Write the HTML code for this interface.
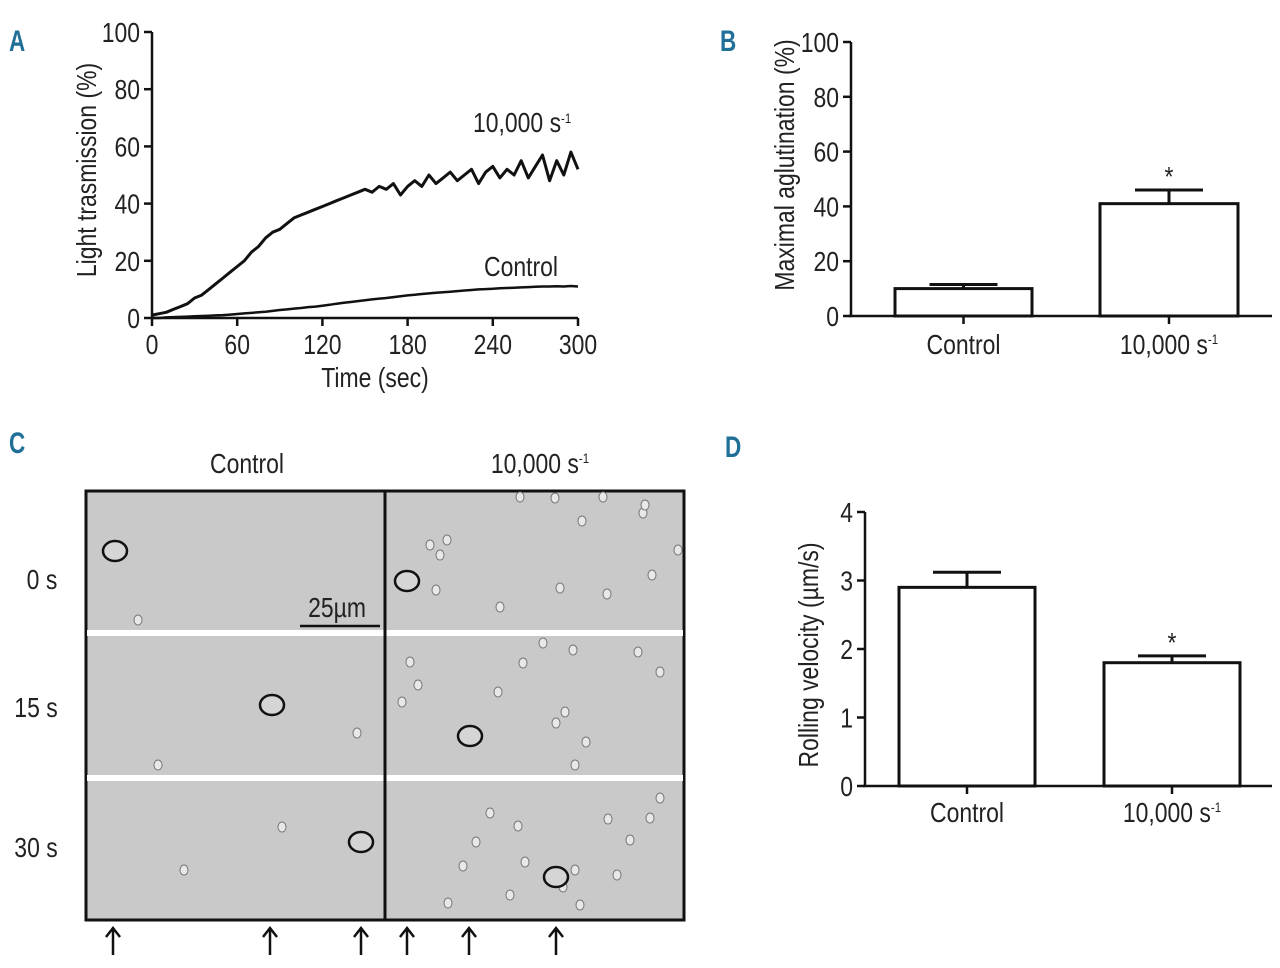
<!DOCTYPE html>
<html><head><meta charset="utf-8"><style>
body{margin:0;background:#fff;}
svg{display:block;font-family:"Liberation Sans",sans-serif;}
.t{font-size:28px;fill:#222;}
.pl{font-size:30px;font-weight:bold;fill:#1f6f99;}
</style></head><body>
<svg id="fig" width="1280" height="968" viewBox="0 0 1280 968" xmlns="http://www.w3.org/2000/svg">
<text class="pl" transform="translate(9,51) scale(0.75,1)">A</text>
<text class="pl" transform="translate(720,51) scale(0.75,1)">B</text>
<text class="pl" transform="translate(9,453) scale(0.75,1)">C</text>
<text class="pl" transform="translate(725,457) scale(0.75,1)">D</text>
<g id="ga"></g>
<g id="gb"></g>
<g id="gc"></g>
<g id="gd"></g>
</svg>
<script>
// Panel A data
const aTicksY=[0,20,40,60,80,100];
const aTicksX=[0,60,120,180,240,300];
const highShear=[1,1.5,2,3,4,5,7,8,10,12,14,16,18,20,23,25,28,30,31,33,35,36,37,38,39,40,41,42,43,44,45,44,46,45,47,43,46,48,46,50,47,49,51,48,50,52,47,51,53,49,52,50,55,49,53,57,48,55,50,58,52];
const controlCurve=[0,0,0.2,0.3,0.4,0.5,0.6,0.7,0.8,0.9,1,1.2,1.4,1.6,1.8,2,2.2,2.5,2.8,3,3.3,3.5,3.8,4,4.3,4.6,5,5.3,5.6,5.9,6.2,6.5,6.8,7,7.3,7.6,7.9,8.1,8.4,8.6,8.8,9,9.2,9.4,9.6,9.8,10,10.1,10.2,10.4,10.5,10.6,10.7,10.8,10.9,11,11,11.1,11,11.2,11];
// Panel B data
const bCats=["Control","10,000 s"];
const bVals=[10,41];
const bErr=[1.5,5];
const bTicks=[0,20,40,60,80,100];
// Panel D data
const dCats=["Control","10,000 s"];
const dVals=[2.9,1.8];
const dErr=[0.22,0.1];
const dTicks=[0,1,2,3,4];

const NS="http://www.w3.org/2000/svg";
const SX=0.82;
function mk(p,tag,at,txt){const e=document.createElementNS(NS,tag);for(const k in at)e.setAttribute(k,at[k]);if(txt!==undefined)e.textContent=txt;p.appendChild(e);return e;}
function tx(p,x,y,anchor,txt,extra,rot){
 const at={'text-anchor':anchor,class:'t',x:0,y:0,transform:`translate(${x},${y})`+(rot?' rotate(-90)':'')+` scale(${SX},1)`};
 for(const k in (extra||{}))at[k]=extra[k];
 const e=mk(p,'text',at);
 if(txt.indexOf('<')>=0)e.innerHTML=txt;else e.textContent=txt;
 return e;}

// ---- Panel A
(function(){
const g=document.getElementById('ga');
const X=v=>152+v*(578-152)/300, Y=v=>318-v*(318-32)/100;
let e=mk(g,'line',{x1:152,y1:32,x2:152,y2:318,stroke:'#111','stroke-width':2.5});

e=mk(g,'line',{x1:152,y1:318,x2:578,y2:318,stroke:'#111','stroke-width':2.5});

aTicksY.forEach(v=>{mk(g,'line',{x1:144,y1:Y(v),x2:152,y2:Y(v),stroke:'#111','stroke-width':2.5});
 e=tx(g,140,Y(v)+10,'end',String(v));
 });
aTicksX.forEach(v=>{mk(g,'line',{x1:X(v),y1:318,x2:X(v),y2:326,stroke:'#111','stroke-width':2.5});
 e=tx(g,X(v),354,'middle',String(v));
 });
e=tx(g,375,387,'middle','Time (sec)');

e=tx(g,96,170,'middle','Light trasmission (%)',{'font-size':'27'},true);

const pts=a=>a.map((v,i)=>X(i*300/(a.length-1)).toFixed(1)+','+Y(v).toFixed(1)).join(' ');
e=mk(g,'polyline',{points:pts(highShear),fill:'none',stroke:'#111','stroke-width':3,'stroke-linejoin':'round'});

e=mk(g,'polyline',{points:pts(controlCurve),fill:'none',stroke:'#111','stroke-width':2.5});

e=tx(g,473,132,'start','10,000 s<tspan dy="-9" font-size="14">-1</tspan>',{'font-size':'25'});

e=tx(g,484,276,'start','Control',{'font-size':'25'});

})();

function barChart(gid,ax,y0,y1,xEnd,ticks,max,cats,vals,errs,bars,labY,title,titleX,titleY,titleSize,star){
const g=document.getElementById(gid);
const Y=v=>y0-v*(y0-y1)/max;
let e=mk(g,'line',{x1:ax,y1:y1,x2:ax,y2:y0,stroke:'#111','stroke-width':2.5});

e=mk(g,'line',{x1:ax-2,y1:y0,x2:xEnd,y2:y0,stroke:'#111','stroke-width':2.5});

ticks.forEach(v=>{mk(g,'line',{x1:ax-8,y1:Y(v),x2:ax,y2:Y(v),stroke:'#111','stroke-width':2.5});
 e=tx(g,ax-12,Y(v)+10,'end',String(v));
 });
cats.forEach((c,i)=>{const [bx,bw]=bars[i];const cx=bx+bw/2;
 e=mk(g,'rect',{x:bx,y:Y(vals[i]),width:bw,height:y0-Y(vals[i]),fill:'#fff',stroke:'#111','stroke-width':3});
 
 mk(g,'line',{x1:cx,y1:Y(vals[i]),x2:cx,y2:Y(vals[i]+errs[i]),stroke:'#111','stroke-width':3});
 e=mk(g,'line',{x1:cx-34,y1:Y(vals[i]+errs[i]),x2:cx+34,y2:Y(vals[i]+errs[i]),stroke:'#111','stroke-width':3});
 
 mk(g,'line',{x1:cx,y1:y0,x2:cx,y2:y0+8,stroke:'#111','stroke-width':2.5});
 e=tx(g,cx,labY,'middle',c+(i==1?'<tspan dy="-10" font-size="14">-1</tspan>':''));
 
 if(i==1&&star){e=tx(g,cx,Y(vals[i]+errs[i])-4,'middle','*',{'font-size':'20'});
 }
});
e=tx(g,titleX,titleY,'middle',title,{'font-size':titleSize},true);

}
barChart('gb',851,316,42,1272,bTicks,100,bCats,bVals,bErr,[[895,137],[1100,138]],354,'Maximal aglutination (%)',794,165,'29',true);
barChart('gd',865,786,512,1272,dTicks,4,dCats,dVals,dErr,[[899,136],[1104,136]],822,'Rolling velocity (µm/s)',818,655,'27',true);

// ---- Panel C
(function(){
const g=document.getElementById('gc');
let e=mk(g,'rect',{x:86,y:491,width:598,height:429,fill:'#c9c9c9',stroke:'#111','stroke-width':3});

mk(g,'rect',{x:87,y:630,width:596,height:6,fill:'#fff'});
mk(g,'rect',{x:87,y:775,width:596,height:6,fill:'#fff'});
e=mk(g,'line',{x1:385,y1:491,x2:385,y2:920,stroke:'#111','stroke-width':3});

const cells=[[138,620],[158,765],[357,733],[282,827],[184,870],[430,545],[447,540],[436,590],[440,555],[500,607],[560,588],[607,594],[652,575],[678,550],[643,513],[603,497],[555,498],[520,497],[582,521],[410,662],[402,702],[418,685],[498,692],[523,663],[543,643],[573,650],[565,712],[556,723],[575,765],[586,742],[638,652],[660,672],[645,505],[448,903],[463,866],[476,842],[490,813],[518,826],[525,862],[575,870],[608,819],[630,840],[650,818],[660,798],[563,887],[617,875],[580,905],[510,895]];
cells.forEach(c=>{mk(g,'ellipse',{cx:c[0],cy:c[1],rx:4,ry:5,fill:'#e8e8e8',stroke:'#777','stroke-width':1});});
const circ=[[115,551],[272,705],[361,842],[407,581],[470,736],[556,877]];
circ.forEach(c=>{e=mk(g,'ellipse',{cx:c[0],cy:c[1],rx:12,ry:10,fill:'#d5d5d5',stroke:'#111','stroke-width':2.5});
 });
mk(g,'line',{x1:300,y1:626,x2:380,y2:626,stroke:'#111','stroke-width':2.5});
e=tx(g,337,617,'middle','25µm',{'font-size':'24'});

[113,270,361,407,469,556].forEach(x=>{e=mk(g,'path',{d:`M${x} 955 V930 M${x-7} 937 L${x} 928 L${x+7} 937`,fill:'none',stroke:'#111','stroke-width':2.5});
 });
e=tx(g,247,473,'middle','Control');

e=tx(g,540,473,'middle','10,000 s<tspan dy="-10" font-size="14">-1</tspan>');

[['0 s',42,589],['15 s',36,717],['30 s',36,857]].forEach(r=>{e=tx(g,r[1],r[2],'middle',r[0]);
 });
})();
</script>
</body></html>
